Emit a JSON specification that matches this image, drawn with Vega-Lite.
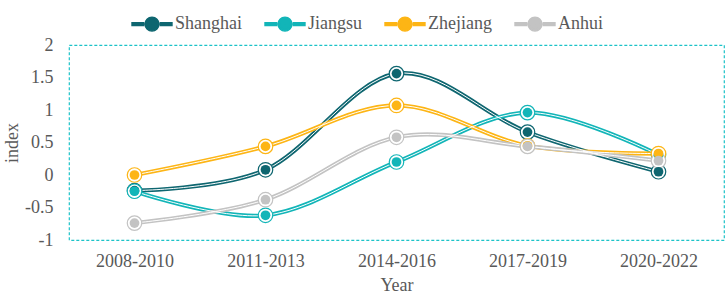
{
  "$schema": "https://vega.github.io/schema/vega-lite/v6.json",
  "width": 655,
  "height": 195,
  "autosize": {"type": "none"},
  "padding": {"left": 69, "top": 45, "right": 2, "bottom": 57},
  "background": "white",
  "config": {
    "view": {"stroke": "#1cc3c8", "strokeDash": [3, 2], "strokeWidth": 1.2},
    "font": "Liberation Serif",
    "axis": {"labelFont": "Liberation Serif", "titleFont": "Liberation Serif", "labelFontSize": 18, "titleFontSize": 18, "labelColor": "#595959", "titleColor": "#595959", "titleFontWeight": "normal", "grid": false, "domain": false, "ticks": false},
    "legend": {"labelFont": "Liberation Serif", "labelFontSize": 18, "labelColor": "#595959"}
  },
  "data": {
    "values": [
      {"period": "2008-2010", "region": "Shanghai", "value": -0.24},
      {"period": "2011-2013", "region": "Shanghai", "value": 0.08},
      {"period": "2014-2016", "region": "Shanghai", "value": 1.56},
      {"period": "2017-2019", "region": "Shanghai", "value": 0.66},
      {"period": "2020-2022", "region": "Shanghai", "value": 0.05},
      {"period": "2008-2010", "region": "Jiangsu", "value": -0.25},
      {"period": "2011-2013", "region": "Jiangsu", "value": -0.62},
      {"period": "2014-2016", "region": "Jiangsu", "value": 0.2},
      {"period": "2017-2019", "region": "Jiangsu", "value": 0.96},
      {"period": "2020-2022", "region": "Jiangsu", "value": 0.31},
      {"period": "2008-2010", "region": "Zhejiang", "value": 0.0},
      {"period": "2011-2013", "region": "Zhejiang", "value": 0.44},
      {"period": "2014-2016", "region": "Zhejiang", "value": 1.07},
      {"period": "2017-2019", "region": "Zhejiang", "value": 0.45},
      {"period": "2020-2022", "region": "Zhejiang", "value": 0.33},
      {"period": "2008-2010", "region": "Anhui", "value": -0.74},
      {"period": "2011-2013", "region": "Anhui", "value": -0.38},
      {"period": "2014-2016", "region": "Anhui", "value": 0.58},
      {"period": "2017-2019", "region": "Anhui", "value": 0.44},
      {"period": "2020-2022", "region": "Anhui", "value": 0.22}
    ]
  },
  "encoding": {
    "x": {
      "field": "period", "type": "ordinal",
      "sort": ["2008-2010", "2011-2013", "2014-2016", "2017-2019", "2020-2022"],
      "scale": {"type": "point", "padding": 0.5},
      "axis": {"title": "Year", "labelAngle": 0, "labelPadding": 12, "titlePadding": 6}
    },
    "y": {
      "field": "value", "type": "quantitative",
      "scale": {"domain": [-1, 2], "nice": false, "zero": false},
      "axis": {"title": "index", "values": [-1, -0.5, 0, 0.5, 1, 1.5, 2], "labelExpr": "'' + datum.value", "labelPadding": 16, "titlePadding": 3}
    }
  },
  "layer": [
    {
      "mark": {"type": "line", "interpolate": "cardinal", "tension": 0, "strokeWidth": 4.2},
      "encoding": {
        "color": {
          "field": "region", "type": "nominal",
          "scale": {"domain": ["Shanghai", "Jiangsu", "Zhejiang", "Anhui"], "range": ["#0e6670", "#12b5b8", "#fdb515", "#c3c3c3"]},
          "legend": {
            "title": null, "orient": "none", "direction": "horizontal", "legendX": 62, "legendY": -42,
            "symbolType": "M-1,-0.07H-0.42V0.07H-1Z M0.42,-0.07H1V0.07H0.42Z M-0.35,0A0.35,0.35 0 1,0 0.35,0A0.35,0.35 0 1,0 -0.35,0Z M-0.05,0A0.05,0.05 0 1,0 0.05,0A0.05,0.05 0 1,0 -0.05,0Z M-0.12,0A0.12,0.12 0 1,0 0.12,0A0.12,0.12 0 1,0 -0.12,0Z M-0.19,0A0.19,0.19 0 1,0 0.19,0A0.19,0.19 0 1,0 -0.19,0Z",
            "symbolSize": 1600, "symbolStrokeWidth": 1.4, "symbolFillColor": "white", "symbolOpacity": 1, "columnPadding": 20, "labelOffset": 2,
            "encode": {"symbols": {"update": {"fill": {"value": "white"}, "fillOpacity": {"value": 1}, "stroke": {"scale": "color", "field": "value"}, "strokeWidth": {"value": 1.4}}}}
          }
        }
      }
    },
    {
      "mark": {"type": "line", "interpolate": "cardinal", "tension": 0, "strokeWidth": 1, "color": "white"},
      "encoding": {"detail": {"field": "region", "type": "nominal"}}
    },
    {
      "mark": {"type": "point", "filled": false, "fill": "white", "fillOpacity": 1, "size": 210, "strokeWidth": 1.2, "opacity": 1},
      "encoding": {"color": {"field": "region", "type": "nominal"}}
    },
    {
      "mark": {"type": "point", "filled": true, "size": 95, "strokeWidth": 0, "opacity": 1},
      "encoding": {"color": {"field": "region", "type": "nominal"}}
    }
  ]
}
